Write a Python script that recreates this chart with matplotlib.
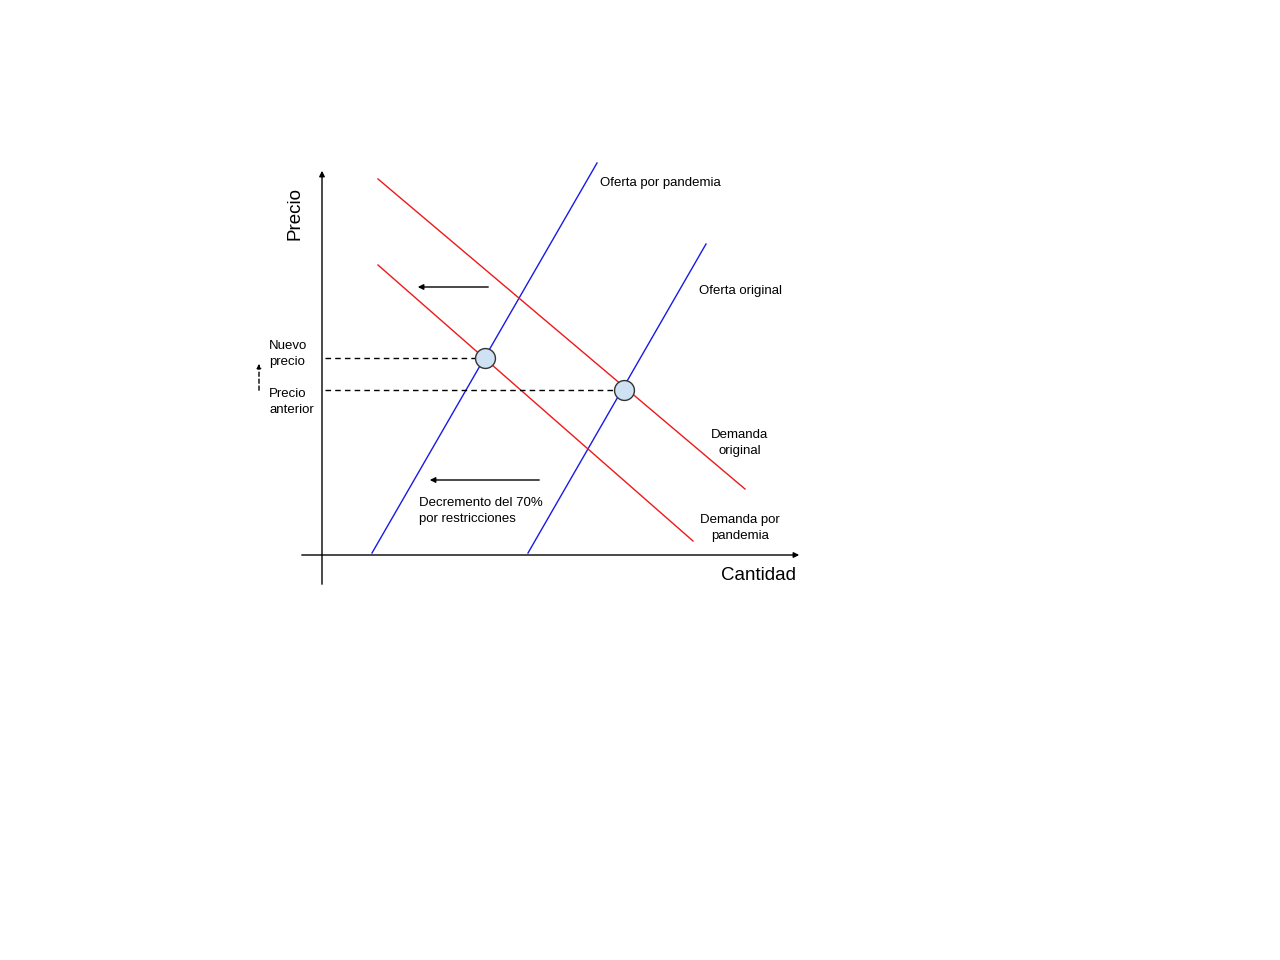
import matplotlib.pyplot as plt

plt.rcParams['font.family'] = ['Liberation Sans', 'DejaVu Sans']

# ejes del diagrama (coordenadas en pixeles de la imagen)
eje_x = [299, 802]
eje_x_y = 555
eje_y = [587, 168]
eje_y_x = 322

# curvas: (x0, y0, x1, y1)
oferta_pandemia = [372, 553, 597, 163]
oferta_original = [528, 553, 706, 244]
demanda_original = [378, 179, 745, 489]
demanda_pandemia = [378, 265, 693, 541]

# equilibrios
eq_x = [485, 624]
eq_y = [358, 390]

fig = plt.figure(figsize=(12.8, 9.6), dpi=100)
ax = fig.add_axes([0, 0, 1, 1])
ax.set_xlim(0, 1280)
ax.set_ylim(960, 0)
ax.axis('off')

# ejes con flecha
ax.annotate('', xy=(eje_x[1], eje_x_y), xytext=(eje_x[0], eje_x_y),
            arrowprops=dict(arrowstyle='-|>', color='black', lw=1, mutation_scale=8))
ax.annotate('', xy=(eje_y_x, eje_y[1]), xytext=(eje_y_x, eje_y[0]),
            arrowprops=dict(arrowstyle='-|>', color='black', lw=1, mutation_scale=8))

for c in [oferta_pandemia, oferta_original]:
    ax.plot([c[0], c[2]], [c[1], c[3]], color='#1a1ae6', lw=1)
for c in [demanda_original, demanda_pandemia]:
    ax.plot([c[0], c[2]], [c[1], c[3]], color='#f01818', lw=1)

# lineas punteadas de precio
for px, py in zip(eq_x, eq_y):
    ax.plot([eje_y_x + 3, px - 9], [py, py], color='black', lw=1, ls=(0, (4, 3)))

ax.scatter(eq_x, eq_y, s=205, facecolor='#cfe2f3', edgecolor='#333333', lw=1, zorder=5)

# flechas de desplazamiento
ax.annotate('', xy=(415, 287), xytext=(491, 287),
            arrowprops=dict(arrowstyle='-|>', color='black', lw=1, mutation_scale=8))
ax.annotate('', xy=(427, 480), xytext=(542, 480),
            arrowprops=dict(arrowstyle='-|>', color='black', lw=1, mutation_scale=8))
ax.annotate('', xy=(259, 361), xytext=(259, 393),
            arrowprops=dict(arrowstyle='-|>', color='black', lw=1, ls=(0, (3, 2)),
                            mutation_scale=6))

fs = 9.5
ax.text(295, 213, 'Precio', rotation=90, ha='center', va='center', fontsize=13.5)
ax.text(758, 576, 'Cantidad', ha='center', va='center', fontsize=13.5)
ax.text(600, 183, 'Oferta por pandemia', ha='left', va='center', fontsize=fs)
ax.text(699, 291, 'Oferta original', ha='left', va='center', fontsize=fs)
ax.text(740, 443, 'Demanda\noriginal', ha='center', va='center', fontsize=fs,
        linespacing=1.35)
ax.text(740, 528, 'Demanda por\npandemia', ha='center', va='center', fontsize=fs,
        linespacing=1.35)
ax.text(269, 354, 'Nuevo\nprecio', ha='left', va='center', fontsize=fs, linespacing=1.35)
ax.text(269, 402, 'Precio\nanterior', ha='left', va='center', fontsize=fs, linespacing=1.35)
ax.text(419, 511, 'Decremento del 70%\npor restricciones', ha='left', va='center',
        fontsize=fs, linespacing=1.35)

fig.savefig('out.png', dpi=100)
